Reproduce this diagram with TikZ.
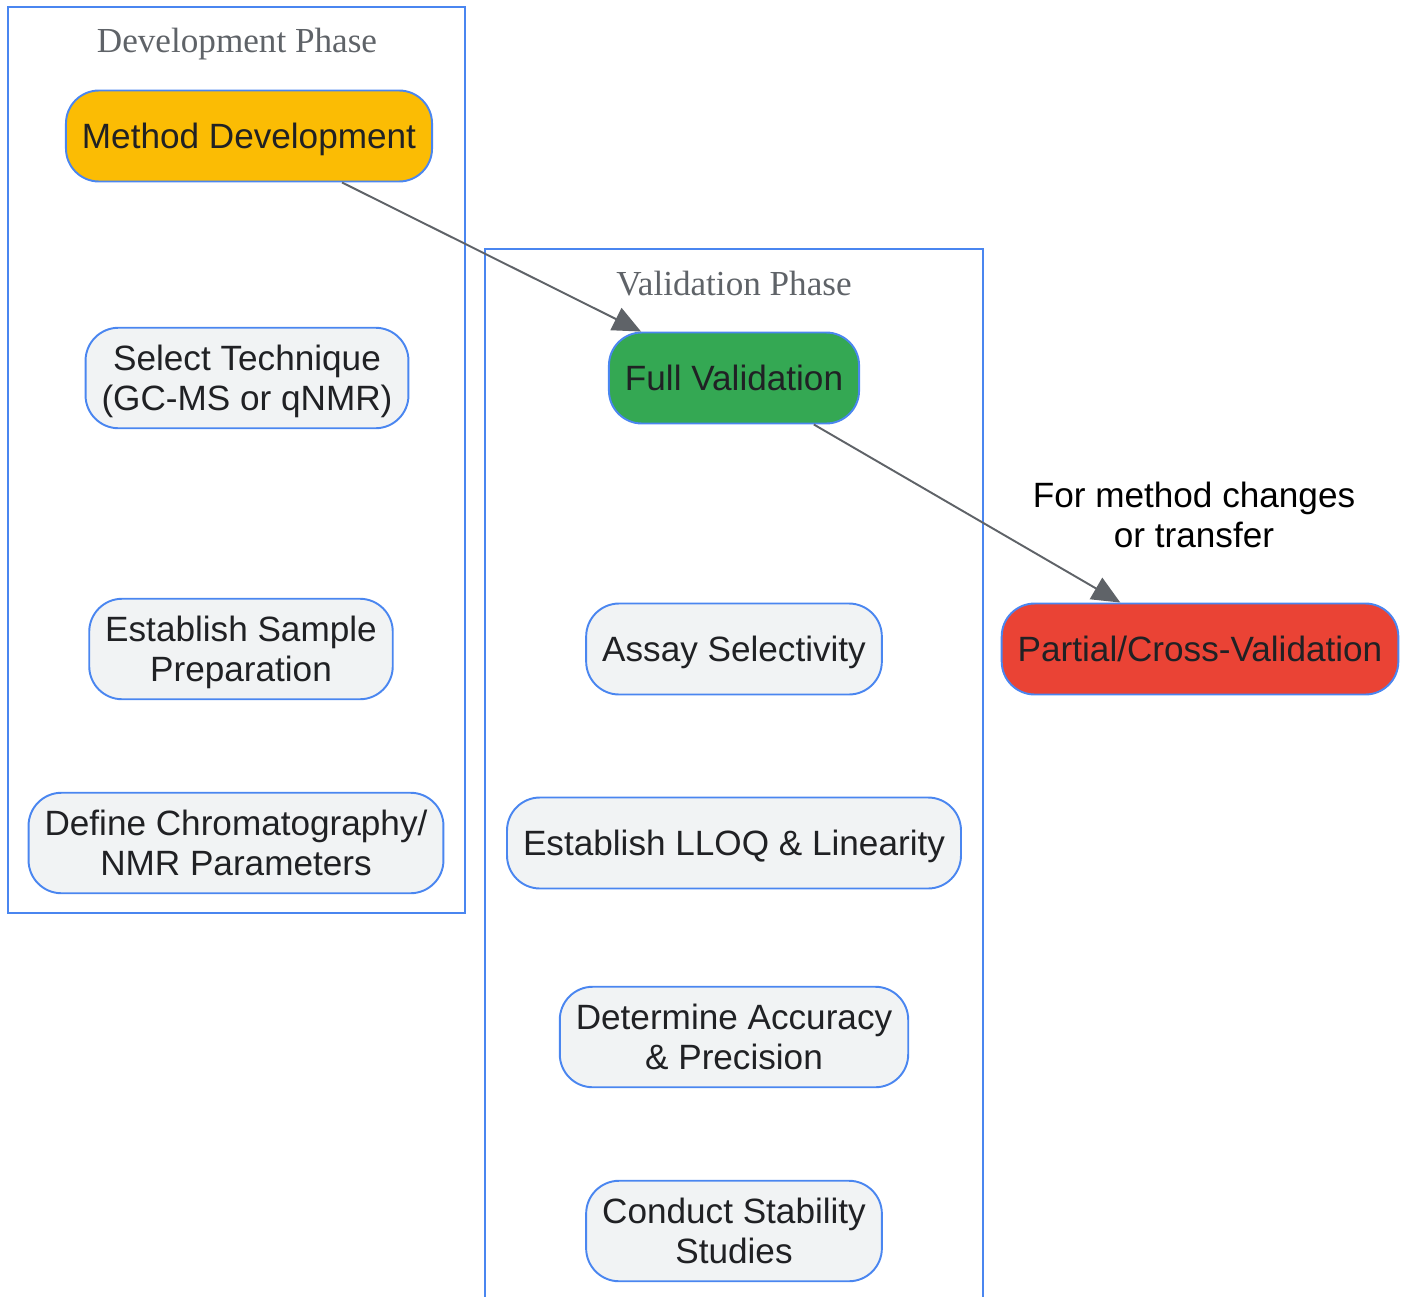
\documentclass[tikz,border=0pt]{standalone}
\usepackage{fontspec}
\setmainfont{Liberation Sans}
\newfontfamily\phasefont{Liberation Serif}
\usepackage{xcolor}
\usepackage{tikz}
\usetikzlibrary{arrows.meta}

\definecolor{edgeblue}{HTML}{4A86F0}
\definecolor{boxgray}{HTML}{F1F3F4}
\definecolor{mdyellow}{HTML}{FBBC04}
\definecolor{fvgreen}{HTML}{34A853}
\definecolor{pvred}{HTML}{EA4335}
\definecolor{inkdark}{HTML}{202124}
\definecolor{linkgray}{HTML}{5F6368}

\begin{document}
\begin{tikzpicture}[
        step box/.style={draw=edgeblue, line width=1.1pt, fill=boxgray,
            rounded corners=0.66cm, align=center, text=inkdark,
            inner xsep=0.32cm, inner ysep=0.355cm, minimum height=1.82cm,
            text depth=0pt, font=\fontsize{20}{22.5}\selectfont},
        phase box/.style={draw=edgeblue, line width=1.1pt},
        phase title/.style={text=linkgray, text depth=0pt,
            font=\phasefont\fontsize{20}{24}\selectfont},
        link/.style={-{Triangle[length=16pt, width=14pt]}, draw=linkgray,
            fill=linkgray, line width=1.1pt}
    ]
        \useasboundingbox (0,0) rectangle (28.18,-25.92);

        % phases
        \draw[phase box] (0.16,-0.14) rectangle (9.30,-18.26);
        \node[phase title] (devtitle) at (4.74,-0.80) {Development Phase};

        \draw[phase box] (9.70,-4.98) rectangle (19.66,-26.4);
        \node[phase title] (valtitle) at (14.68,-5.66) {Validation Phase};

        % development steps
        \node[step box, fill=mdyellow] (md) at (4.98,-2.72)
        {Method Development};
        \node[step box] (sel) at (4.94,-7.56)
        {Select Technique\\(GC-MS or qNMR)};
        \node[step box] (prep) at (4.82,-12.98)
        {Establish Sample\\Preparation};
        \node[step box] (param) at (4.72,-16.86)
        {Define Chromatography/\\NMR Parameters};

        % validation steps
        \node[step box, fill=fvgreen] (full) at (14.68,-7.56)
        {Full Validation};
        \node[step box] (assay) at (14.68,-12.98)
        {Assay Selectivity};
        \node[step box] (lloq) at (14.68,-16.86)
        {Establish LLOQ \& Linearity};
        \node[step box] (acc) at (14.68,-20.74)
        {Determine Accuracy\\\& Precision};
        \node[step box] (stab) at (14.68,-24.62)
        {Conduct Stability\\Studies};

        \node[step box, fill=pvred] (partial) at (24.0,-12.98)
        {Partial/Cross-Validation};

        % links
        \draw[link] (md) -- (full);
        \draw[link] (full) -- (partial);

        \node[align=center, font=\fontsize{20}{22.5}\selectfont] (why)
        at (23.88,-10.30) {For method changes\\or transfer};
\end{tikzpicture}
\end{document}
